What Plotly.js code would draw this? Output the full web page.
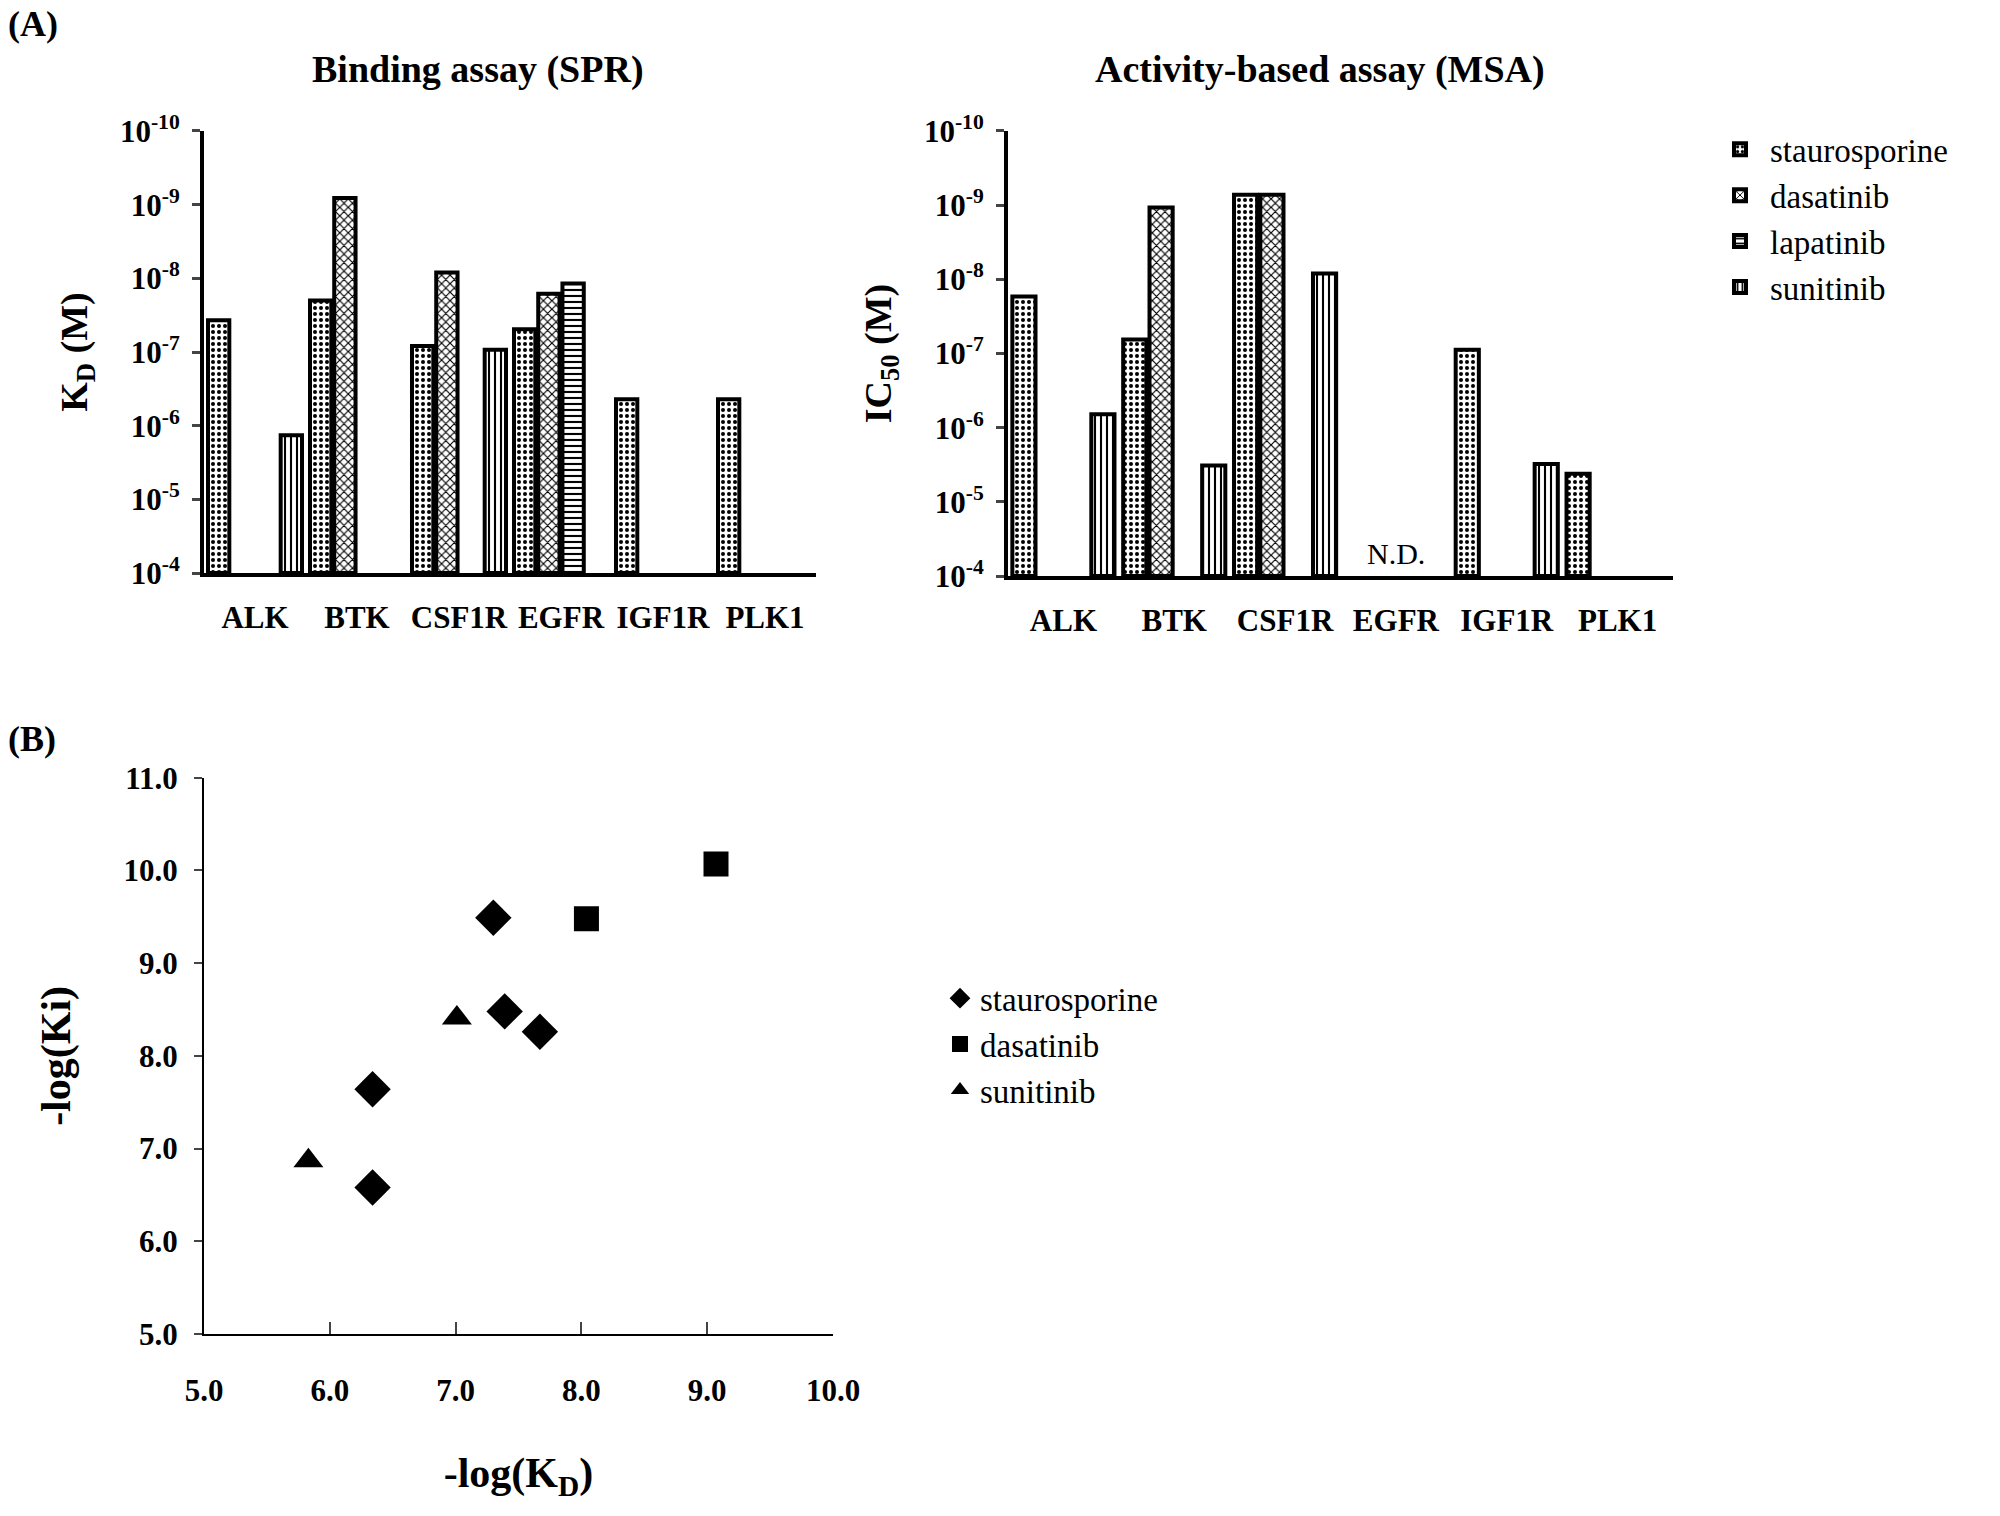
<!DOCTYPE html>
<html>
<head>
<meta charset="utf-8">
<script src="https://cdn.plot.ly/plotly-3.0.1.min.js"></script>
<style>body{margin:0;background:#fff}#chart{width:2000px;height:1516px}</style>
</head>
<body>
<div id="chart"></div>
<script>
// kinases on the bar charts
const kinases = ["ALK", "BTK", "CSF1R", "EGFR", "IGF1R", "PLK1"];

// -log10(KD) from SPR, null = no bar
const sprStauro = [7.43, 7.70, 7.08, 7.31, 6.36, 6.36];
const sprDasat  = [null, 9.09, 8.08, 7.79, null, null];
const sprLapat  = [null, null, null, 7.93, null, null];
const sprSunit  = [5.87, null, 7.03, null, null, null];

// -log10(IC50) from MSA
const msaStauro = [7.77, 7.19, 9.14, null, 7.05, 5.38];
const msaDasat  = [null, 8.97, 9.14, null, null, null];
const msaLapat  = [null, null, null, null, null, null];
const msaSunit  = [6.18, 5.49, 8.08, null, 5.51, null];

// scatter -log(KD) vs -log(Ki)
const stauroKd = [7.30, 7.39, 7.67, 6.34, 6.34];
const stauroKi = [9.49, 8.48, 8.26, 7.64, 6.58];
const dasatKd = [8.04, 9.07];
const dasatKi = [9.48, 10.07];
const sunitKd = [7.01, 5.83];
const sunitKi = [8.41, 6.87];

const decades = [4, 5, 6, 7, 8, 9, 10];
const decadeText = decades.map(d => "10<sup>-" + d + "</sup>");

const font = "Liberation Serif, Times New Roman, serif";
const base = 4;

function bars(name, vals, shape, xa, ya, show) {
    return {
        type: "bar", name: name, x: kinases,
        y: vals.map(v => v === null ? null : v - base), base: base,
        xaxis: xa, yaxis: ya, showlegend: show, legend: "legend",
        marker: {
            color: "white",
            line: {color: "black", width: 4},
            pattern: {shape: shape, fgcolor: "black", bgcolor: "white", size: 6, solidity: 0.35}
        }
    };
}

const shapes = [".", "x", "-", "|"];
const names = ["staurosporine", "dasatinib", "lapatinib", "sunitinib"];
const spr = [sprStauro, sprDasat, sprLapat, sprSunit];
const msa = [msaStauro, msaDasat, msaLapat, msaSunit];

let data = [];
for (let i = 0; i < 4; i++) data.push(bars(names[i], spr[i], shapes[i], "x", "y", false));
for (let i = 0; i < 4; i++) data.push(bars(names[i], msa[i], shapes[i], "x2", "y2", true));

const marks = [
    {name: "staurosporine", x: stauroKd, y: stauroKi, symbol: "diamond", size: 28},
    {name: "dasatinib", x: dasatKd, y: dasatKi, symbol: "square", size: 25},
    {name: "sunitinib", x: sunitKd, y: sunitKi, symbol: "triangle-up", size: 26}
];
marks.forEach(m => data.push({
    type: "scatter", mode: "markers", name: m.name, x: m.x, y: m.y,
    xaxis: "x3", yaxis: "y3", legend: "legend2",
    marker: {symbol: m.symbol, size: m.size, color: "black"}
}));

const tickFont = {family: font, size: 31, color: "black", weight: "bold"};

function barX(domain) {
    return {domain: domain, showline: true, linewidth: 4, linecolor: "black",
        ticks: "", tickfont: tickFont, fixedrange: true, ticklabelstandoff: 14};
}
function barY(domain, title) {
    return {domain: domain, range: [4, 10], tickvals: decades, ticktext: decadeText,
        showline: true, linewidth: 4, linecolor: "black", ticks: "outside",
        ticklen: 8, tickwidth: 3, showgrid: false, zeroline: false, tickfont: tickFont,
        ticklabelstandoff: 6,
        title: {text: title, font: {family: font, size: 38, color: "black", weight: "bold"}, standoff: 22}};
}

const layout = {
    width: 2000, height: 1516,
    margin: {l: 0, r: 0, t: 0, b: 0},
    paper_bgcolor: "white", plot_bgcolor: "white",
    font: {family: font, color: "black"},
    barmode: "group", bargap: 0.05, bargroupgap: 0.12,
    xaxis: Object.assign(barX([0.102, 0.408]), {anchor: "y"}),
    yaxis: Object.assign(barY([0.622, 0.9136], "K<sub>D</sub> (M)"), {anchor: "x"}),
    xaxis2: Object.assign(barX([0.504, 0.8365]), {anchor: "y2"}),
    yaxis2: Object.assign(barY([0.62, 0.9136], "IC<sub>50</sub> (M)"), {anchor: "x2"}),
    xaxis3: {domain: [0.102, 0.4165], anchor: "y3", range: [5, 10], dtick: 1, tickformat: ".1f",
        showline: true, linewidth: 2, linecolor: "black", ticks: "inside", ticklen: 12, tickwidth: 2,
        showgrid: false, zeroline: false, tickfont: tickFont, ticklabelstandoff: 28,
        title: {text: "-log(K<sub>D</sub>)", font: {family: font, size: 42, color: "black", weight: "bold"}, standoff: 50}},
    yaxis3: {domain: [0.12, 0.487], anchor: "x3", range: [5, 11], dtick: 1, tickformat: ".1f",
        showline: true, linewidth: 2, linecolor: "black", ticks: "outside", ticklen: 8, tickwidth: 2,
        showgrid: false, zeroline: false, tickfont: tickFont, ticklabelstandoff: 10,
        title: {text: "-log(Ki)", font: {family: font, size: 42, color: "black", weight: "bold"}, standoff: 40}},
    legend: {x: 0.855, y: 0.92, xanchor: "left", yanchor: "top", tracegroupgap: 0,
        font: {family: font, size: 33, color: "black"}, itemwidth: 50},
    legend2: {x: 0.47, y: 0.36, xanchor: "left", yanchor: "top",
        font: {family: font, size: 33, color: "black"}, itemwidth: 30},
    annotations: [
        {text: "(A)", x: 0.003, y: 0.999, xref: "paper", yref: "paper", xanchor: "left", yanchor: "top",
            showarrow: false, font: {family: font, size: 36, weight: "bold"}},
        {text: "(B)", x: 0.003, y: 0.527, xref: "paper", yref: "paper", xanchor: "left", yanchor: "top",
            showarrow: false, font: {family: font, size: 36, weight: "bold"}},
        {text: "Binding assay (SPR)", x: 0.239, y: 0.954, xref: "paper", yref: "paper",
            xanchor: "center", yanchor: "middle",
            showarrow: false, font: {family: font, size: 38, weight: "bold"}},
        {text: "Activity-based assay (MSA)", x: 0.66, y: 0.954, xref: "paper", yref: "paper",
            xanchor: "center", yanchor: "middle",
            showarrow: false, font: {family: font, size: 38, weight: "bold"}},
        {text: "N.D.", x: "EGFR", y: 4.3, xref: "x2", yref: "y2", yanchor: "middle",
            showarrow: false, font: {family: font, size: 30}}
    ]
};

Plotly.newPlot("chart", data, layout, {staticPlot: true});
</script>
</body>
</html>
